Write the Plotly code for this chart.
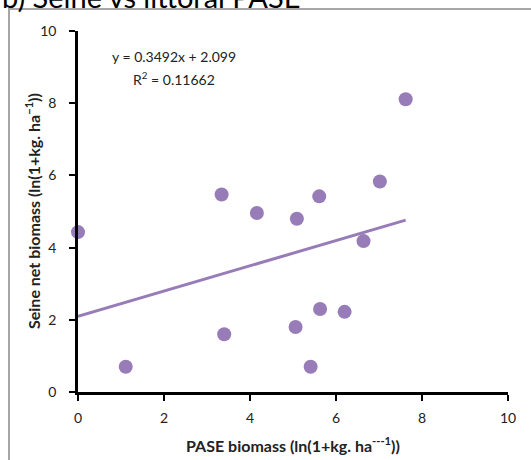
import plotly.graph_objects as go

# Data
pase_biomass = [0.0, 1.11, 3.34, 3.40, 4.16, 5.06, 5.09, 5.61, 5.63, 5.41, 6.20, 6.64, 7.02, 7.62]
seine_biomass = [4.43, 0.70, 5.47, 1.60, 4.96, 1.80, 4.80, 5.42, 2.30, 0.70, 2.22, 4.18, 5.83, 8.11]
slope = 0.3492
intercept = 2.099
r_squared = 0.11662
tick_vals = [0, 2, 4, 6, 8, 10]

purple = "#977cb8"
font_family = "Lato, 'Open Sans', sans-serif"

trend_x = [0.0, max(pase_biomass)]
trend_y = [slope * v + intercept for v in trend_x]

fig = go.Figure()
fig.add_trace(go.Scatter(x=trend_x, y=trend_y, mode="lines",
                         line=dict(color=purple, width=3), cliponaxis=False,
                         hoverinfo="skip", showlegend=False))
fig.add_trace(go.Scatter(x=pase_biomass, y=seine_biomass, mode="markers",
                         marker=dict(color=purple, size=14), cliponaxis=False,
                         showlegend=False))

W0, W1, H0, H1 = 78, 508, 31, 392
def px(x):
    return (x - W0) / (W1 - W0)
def py(y):
    return (H1 - y) / (H1 - H0)

axis_common = dict(range=[0, 10], tickvals=tick_vals, showgrid=False, zeroline=False,
                   showline=True, linecolor="black", linewidth=2.5,
                   ticks="outside", ticklen=6, tickwidth=2, tickcolor="black",
                   tickfont=dict(family=font_family, size=14, color="#222"))

fig.update_layout(
    width=531, height=460,
    margin=dict(l=W0, r=531 - W1, t=H0, b=460 - H1),
    paper_bgcolor="white", plot_bgcolor="white",
    xaxis=dict(**axis_common, ticklabelstandoff=5),
    yaxis=dict(**axis_common, ticklabelstandoff=10),
    shapes=[dict(type="rect", xref="paper", yref="paper",
                 x0=px(9), x1=1.3, y0=-0.4, y1=py(9),
                 line=dict(color="#a6a6a6", width=2), fillcolor="rgba(0,0,0,0)", layer="below")],
    annotations=[
        dict(text="b) Seine vs littoral PASE", xref="paper", yref="paper",
             x=px(0), y=py(16), xanchor="left", yanchor="bottom", showarrow=False,
             font=dict(family=font_family, size=29, color="black")),
        dict(text=f"y = {slope}x + {intercept}", xref="paper", yref="paper",
             x=px(174), y=py(57), xanchor="center", yanchor="middle", showarrow=False,
             font=dict(family=font_family, size=14, color="#222")),
        dict(text=f"R<sup>2</sup> = {r_squared}", xref="paper", yref="paper",
             x=px(174), y=py(78), xanchor="center", yanchor="middle", showarrow=False,
             font=dict(family=font_family, size=14, color="#222")),
        dict(text="<b>PASE biomass (ln(1+kg. ha<sup>---1</sup>))</b>", xref="paper", yref="paper",
             x=px(293), y=py(444), xanchor="center", yanchor="middle", showarrow=False,
             font=dict(family=font_family, size=16, color="#222")),
        dict(text="<b>Seine net biomass (ln(1+kg. ha<sup>−1</sup>))</b>", xref="paper", yref="paper",
             x=px(32), y=py(211), xanchor="center", yanchor="middle", showarrow=False,
             textangle=-90,
             font=dict(family=font_family, size=16, color="#222")),
    ],
)

fig.write_html("out.html", config={"displayModeBar": False},
               post_script="document.body.style.margin='0';")
